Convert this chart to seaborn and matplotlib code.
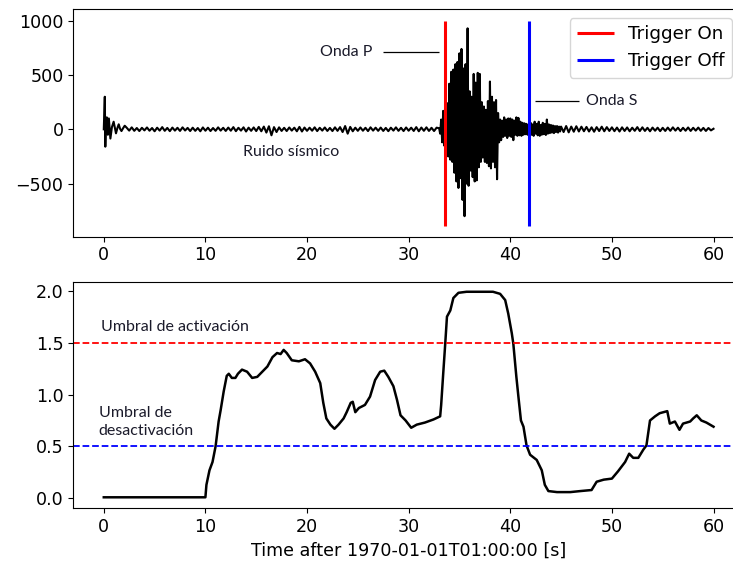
import numpy as np
import pandas as pd
import matplotlib
matplotlib.use("Agg")
import matplotlib.pyplot as plt
import seaborn as sns

# ---------------- data ----------------
# seismogram: initial transient (irregular times)
start_t = [0.0, 0.05, 0.1, 0.15, 0.2, 0.3, 0.4, 0.5, 0.65, 0.8, 0.97, 1.1,
           1.2, 1.35, 1.47, 1.6, 1.74, 1.9, 2.06]
start_v = [0, 150, 300, -160, 30, 110, -50, 100, -85, 20, 70, 10,
           -37, 15, 46, 5, -16, 10, 33]

# seismic noise before the event (every 0.25 s from 2.25 s)
noise_t0, noise_dt = 2.25, 0.25
noise_v = [15, -12, 18, -14, 12, -16, 14, -10, 17, -13,
           12, -18, 15, -12, 20, -14, 13, -17, 16, -12,
           14, -15, 18, -11, 13, -16, 15, -14, 12, -18,
           17, -13, 15, -16, 12, -14, 18, -12, 14, -15,
           16, -13, 20, -17, 14, -12, 18, -20, 15, -14,
           17, -16, 22, -18, 25, -30, 28, -55, 20, -25,
           18, -15, 14, -16, 17, -12, 15, -18, 22, -20,
           16, -14, 15, -13, 18, -16, 14, -12, 17, -15,
           13, -16, 18, -14, 20, -25, 30, -40, 22, -18,
           15, -14, 17, -13, 14, -16, 18, -12, 15, -14,
           16, -15, 13, -17, 15, -12, 18, -14, 14, -16,
           17, -13, 15, -15, 20, -18, 16, -14, 18, -15,
           14, -16, 15]

# event (every 0.1 s from 33.0 s)
event_t0, event_dt = 33.0, 0.1
event_v = [10, -40, 90, -120, 170, -150, 200, -220, 240, -250,
           420, -280, 530, -300, 550, -400, 600, -480, 620, -540,
           700, -450, 740, -650, 560, -800, 600, -500, 930, -520,
           350, -380, 300, -440, 510, -480, 430, -470, 520, -350,
           510, -300, 250, -260, 210, -300, 180, -310, 260, -340,
           440, -360, 300, -300, 250, -350, 270, -460, 150, -120,
           90, -100, 80, -70, 110, -60, 90, -80, 100, -60,
           100, -70, 90, -100, 80, -50, 110, -60, 105, -55,
           70, -60, 60, -50, 55, -45, 50, -50, 40, -40,
           60, -50, 45, -60, 70, -40, 50, -55, 70, -60,
           40, -50, 60, -45, 50, -52, 90, -40, 45, -35,
           40, -30, 35, -35, 30, -25, 30, -30, 25, -20,
           25]

# coda / noise after the event (every 0.25 s from 45.25 s)
tail_t0, tail_dt = 45.25, 0.25
tail_v = [-25, 30, -28, 25, -22, 28, -20, 24, -18, 22,
          -20, 18, -22, 20, -16, 24, -18, 20, -15, 18,
          -17, 16, -20, 18, -15, 17, -18, 15, -14, 20,
          -16, 18, -15, 14, -18, 16, -13, 15, -17, 14,
          -15, 16, -14, 18, -12, 15, -16, 14, -13, 17,
          -15, 14, -12, 16, -14, 13, -15, 12, -10, 5]

# STA/LTA characteristic function
cft_t = [0.0, 10.0, 10.1, 10.4, 10.7, 11.0, 11.3, 11.5, 11.8, 12.1, 12.3, 12.6,
         12.95, 13.2, 13.6, 14.1, 14.6, 15.1, 15.6, 16.1, 16.6, 17.05, 17.4,
         17.7, 18.0, 18.5, 19.2, 19.8, 20.3, 20.8, 21.3, 21.6, 21.9, 22.3,
         22.7, 23.1, 23.6, 23.9, 24.3, 24.5, 24.75, 25.1, 25.7, 26.2, 26.7,
         27.2, 27.6, 28.0, 28.5, 28.85, 29.2, 29.7, 30.25, 30.8, 31.6, 32.45,
         33.1, 33.2, 33.4, 33.6, 33.77, 34.1, 34.4, 34.9, 35.7, 37.0, 38.3,
         39.0, 39.5, 39.8, 40.15, 40.3, 40.6, 40.8, 41.05, 41.3, 41.6, 41.95,
         42.6, 43.1, 43.4, 43.75, 44.6, 45.9, 46.9, 48.0, 48.5, 49.2, 50.0,
         50.6, 51.3, 51.7, 52.1, 52.6, 53.1, 53.4, 53.75, 54.25, 54.7, 55.45,
         55.7, 56.2, 56.65, 57.0, 57.7, 58.0, 58.35, 58.8, 59.3, 60.0]
cft_v = [0.01, 0.01, 0.13, 0.27, 0.35, 0.50, 0.74, 0.85, 1.03, 1.18, 1.20, 1.16,
         1.16, 1.20, 1.24, 1.22, 1.16, 1.17, 1.22, 1.27, 1.36, 1.40, 1.39,
         1.43, 1.40, 1.33, 1.32, 1.34, 1.30, 1.22, 1.11, 0.92, 0.77, 0.71,
         0.67, 0.71, 0.77, 0.83, 0.92, 0.93, 0.83, 0.87, 0.90, 0.98, 1.14,
         1.22, 1.23, 1.17, 1.08, 0.95, 0.80, 0.75, 0.68, 0.71, 0.73, 0.76,
         0.79, 0.90, 1.20, 1.49, 1.75, 1.81, 1.93, 1.98, 1.99, 1.99, 1.99,
         1.97, 1.91, 1.78, 1.59, 1.49, 1.17, 0.98, 0.75, 0.69, 0.51, 0.42,
         0.37, 0.27, 0.13, 0.07, 0.06, 0.06, 0.07, 0.08, 0.16, 0.18, 0.19,
         0.26, 0.35, 0.43, 0.39, 0.39, 0.47, 0.51, 0.75, 0.79, 0.82, 0.84,
         0.72, 0.74, 0.66, 0.72, 0.74, 0.77, 0.80, 0.75, 0.73, 0.69]

trigger_on = [33.6]
trigger_off = [41.86]
trigger_span = (-890, 1000)
thr_on = 1.5
thr_off = 0.5
xticks = [0, 10, 20, 30, 40, 50, 60]
xlabel = "Time after 1970-01-01T01:00:00 [s]"

# ---------------- assemble ----------------
def seg(t0, dt, vals):
    return t0 + dt * np.arange(len(vals))

trace = pd.DataFrame({
    "t": np.concatenate([start_t, seg(noise_t0, noise_dt, noise_v),
                         seg(event_t0, event_dt, event_v),
                         seg(tail_t0, tail_dt, tail_v)]),
    "v": np.concatenate([start_v, noise_v, event_v, tail_v]).astype(float),
})
cft = pd.DataFrame({"t": cft_t, "v": cft_v})

# ---------------- figure ----------------
W, H = 733, 569
fig = plt.figure(figsize=(W / 100, H / 100), dpi=100)
left = 73.3 / W
width = (744 - 73.3) / W
ax1 = fig.add_axes([left, 1 - 236.7 / H, width, (236.7 - 9) / H])
ax2 = fig.add_axes([left, 1 - 508.3 / H, width, (508.3 - 281.7) / H])

TICK_FS = 12.6
ann_font = dict(family=["Lato", "DejaVu Sans"], fontsize=11.5, color="#1a1a2a")

# top: seismogram
sns.lineplot(data=trace, x="t", y="v", ax=ax1, color="black", linewidth=1.5,
             estimator=None, sort=False)
ax1.vlines(trigger_on, *trigger_span, color="red", lw=2.2, label="Trigger On")
ax1.vlines(trigger_off, *trigger_span, color="blue", lw=2.2, label="Trigger Off")
ax1.set_xlim(-3, 63)
ax1.set_ylim(-989, 1108)
ax1.set_yticks([-500, 0, 500, 1000])
ax1.set_xticks(xticks)
ax1.set_xlabel("")
ax1.set_ylabel("")
ax1.tick_params(labelsize=TICK_FS)
leg = ax1.legend(loc="upper right", bbox_to_anchor=(732 / W, 1 - 18 / H),
                 bbox_transform=fig.transFigure, borderaxespad=0,
                 fontsize=13.2)

ax1.text(21.3, 712, "Onda P", ha="left", va="center", **ann_font)
ax1.hlines(712, 27.5, 33.0, color="black", lw=0.9)
ax1.text(47.46, 263, "Onda S", ha="left", va="center", **ann_font)
ax1.hlines(260, 42.45, 46.8, color="black", lw=0.9)
ax1.text(13.66, -209, "Ruido sísmico", ha="left", va="center", **ann_font)

# bottom: characteristic function
sns.lineplot(data=cft, x="t", y="v", ax=ax2, color="black", linewidth=1.8,
             estimator=None, sort=False)
ax2.axhline(thr_on, color="red", ls="--", lw=1.3)
ax2.axhline(thr_off, color="blue", ls="--", lw=1.3)
ax2.set_xlim(-3, 63)
ax2.set_ylim(-0.096, 2.087)
ax2.set_yticks([0.0, 0.5, 1.0, 1.5, 2.0])
ax2.set_xticks(xticks)
ax2.set_ylabel("")
ax2.set_xlabel(xlabel, fontsize=TICK_FS)
ax2.tick_params(labelsize=TICK_FS)
ax2.text(-0.32, 1.653, "Umbral de activación", ha="left", va="center", **ann_font)
ax2.text(-0.52, 0.738, "Umbral de\ndesactivación", ha="left", va="center",
         linespacing=1.35, **ann_font)

fig.savefig("out.png", dpi=100)
